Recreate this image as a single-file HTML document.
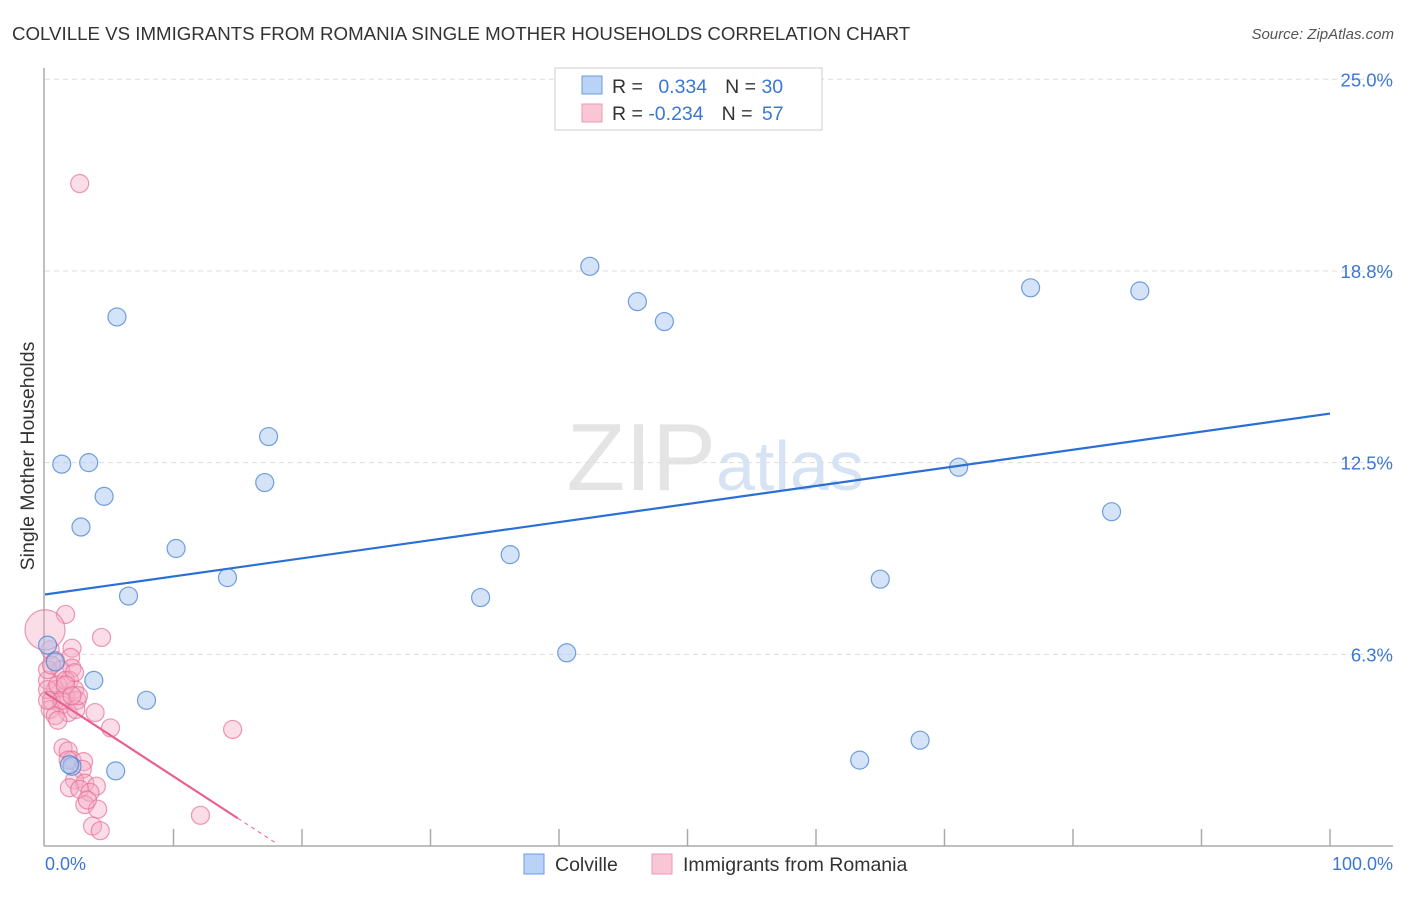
<!DOCTYPE html>
<html><head><meta charset="utf-8"><style>
body{margin:0;background:#fff;font-family:"Liberation Sans",sans-serif}
svg text{font-family:"Liberation Sans",sans-serif}
</style></head><body>
<svg id="chart" width="1406" height="892">
<text x="12" y="40" font-size="18.7" fill="#333">COLVILLE VS IMMIGRANTS FROM ROMANIA SINGLE MOTHER HOUSEHOLDS CORRELATION CHART</text>
<text x="1394" y="39" font-size="15" fill="#555" font-style="italic" text-anchor="end">Source: ZipAtlas.com</text>
<text x="716" y="490" font-size="96" fill="#e4e4e4" text-anchor="end" font-family="Liberation Serif">ZIP</text>
<text x="716" y="490" font-size="70" fill="#d6e3f5">atlas</text>
<g id="grid"></g><g id="axes"></g><g id="marks"></g>
<text transform="translate(34,456) rotate(-90)" font-size="19.5" fill="#333" text-anchor="middle">Single Mother Households</text>
<text x="45" y="870" font-size="18" fill="#3a78d4">0.0%</text>
<text x="1393" y="870" font-size="18" fill="#3a78d4" text-anchor="end">100.0%</text>
<g>
<rect x="555" y="68" width="267" height="62" fill="#fff" stroke="#ccc"/>
<rect x="582" y="76" width="20" height="18" fill="#b8d3f5" stroke="#6a9be0"/>
<rect x="582" y="104" width="20" height="18" fill="#f9c6d5" stroke="#ec9ab4"/>
<text x="612" y="93" font-size="19.5" fill="#333">R = <tspan fill="#3a78d4" dx="10">0.334</tspan><tspan dx="18" fill="#333">N = </tspan><tspan fill="#3a78d4">30</tspan></text>
<text x="612" y="120" font-size="19.5" fill="#333">R = <tspan fill="#3a78d4">-0.234</tspan><tspan dx="18" fill="#333">N = </tspan><tspan fill="#3a78d4" dx="4">57</tspan></text>
</g>
<g>
<rect x="524" y="854" width="20" height="20" fill="#b8d3f5" stroke="#6a9be0"/>
<text x="555" y="871" font-size="19.5" fill="#333">Colville</text>
<rect x="652" y="854" width="20" height="20" fill="#f9c6d5" stroke="#ec9ab4"/>
<text x="683" y="871" font-size="19.5" fill="#333">Immigrants from Romania</text>
</g>
</svg>
<script>
const yTicks=[25,18.75,12.5,6.25];
const yTickLabels=["25.0%","18.8%","12.5%","6.3%"];
const xTicks=[10,20,30,40,50,60,70,80,90,100];
const blueX=[5.6,1.3,3.4,4.6,2.8,10.2,6.5,14.2,17.4,17.1,3.8,7.9,5.5,2.1,42.4,46.1,48.2,36.2,33.9,40.6,65.0,63.4,68.1,71.1,76.7,85.2,83.0,0.2,0.8,1.9];
const blueY=[17.25,12.45,12.5,11.4,10.4,9.7,8.15,8.75,13.35,11.85,5.4,4.75,2.45,2.6,18.9,17.75,17.1,9.5,8.1,6.3,8.7,2.8,3.45,12.35,18.2,18.1,10.9,6.55,6.0,2.65];
const pinkX=[2.7,1.6,4.4,2.1,2.0,2.1,0.4,0.8,1.2,0.2,1.9,0.8,1.6,0.5,2.3,2.5,1.3,1.8,0.4,0.8,1.0,2.4,3.9,5.1,14.6,1.4,1.8,2.1,3.0,2.9,2.3,3.1,4.0,1.9,2.7,3.5,3.1,4.1,3.3,3.7,4.3,12.1,0.2,0.2,1.0,1.3,1.6,2.3,2.6,0.2,0.5,1.6,2.1,1.8,0.0];
const pinkY=[21.6,7.55,6.8,6.45,6.15,5.8,6.4,6.05,5.75,5.4,5.4,5.1,4.9,4.75,5.1,4.75,4.6,4.35,4.45,4.25,4.1,4.45,4.35,3.85,3.8,3.2,3.1,2.8,2.75,2.5,2.15,2.05,1.95,1.9,1.85,1.75,1.35,1.2,1.5,0.65,0.5,1.0,5.75,5.1,5.25,4.75,5.4,5.65,4.9,4.75,5.9,5.25,4.9,2.8,7.05];
const blueTrend=[8.2,14.1];
const pinkTrend=[5.0,-22.3];
const X0=45,X1=1330,Y0=846,PPU=30.67;
const sx=v=>X0+(X1-X0)*v/100, sy=v=>Y0-v*PPU;
const NS="http://www.w3.org/2000/svg";
function mk(t,a,p){const e=document.createElementNS(NS,t);for(const k in a)e.setAttribute(k,a[k]);p.appendChild(e);return e;}
const grid=document.getElementById('grid'),axes=document.getElementById('axes'),marks=document.getElementById('marks');
yTicks.forEach((t,i)=>{
 const l=mk('line',{x1:45,x2:1393,y1:sy(t),y2:sy(t),stroke:'#ddd','stroke-dasharray':'5,4'},grid);
 
 
 const tx=mk('text',{x:1393,y:sy(t)+7,'font-size':18.5,fill:'#3a78d4','text-anchor':'end'},grid);
 tx.textContent=yTickLabels[i];
 
 
});
const ya=mk('line',{x1:44,x2:44,y1:68,y2:846,stroke:'#aaa','stroke-width':1.5},axes);


const xa=mk('line',{x1:44,x2:1393,y1:846,y2:846,stroke:'#aaa','stroke-width':1.5},axes);


xTicks.forEach(t=>{
 const l=mk('line',{x1:sx(t),x2:sx(t),y1:846,y2:829,stroke:'#aaa','stroke-width':1.5},axes);
 
 
});
pinkX.forEach((x,i)=>{
 const r=(i===pinkX.length-1)?20:9;
 const c=mk('circle',{cx:sx(x),cy:sy(pinkY[i]),r:r,fill:'rgba(245,170,195,0.4)',stroke:'rgba(230,110,150,0.7)','stroke-width':1.2},marks);
 
 
});
blueX.forEach((x,i)=>{
 const c=mk('circle',{cx:sx(x),cy:sy(blueY[i]),r:9,fill:'rgba(170,200,240,0.5)',stroke:'rgba(70,130,210,0.75)','stroke-width':1.2},marks);
 
 
});
const bl=mk('line',{x1:sx(0),y1:sy(blueTrend[0]),x2:sx(100),y2:sy(blueTrend[1]),stroke:'#2a6fd6','stroke-width':2.2},marks);


const pv=x=>pinkTrend[0]+(pinkTrend[1]-pinkTrend[0])*x/100;
const pl=mk('line',{x1:sx(0),y1:sy(pv(0)),x2:sx(15),y2:sy(pv(15)),stroke:'#e8608e','stroke-width':2.2},marks);


const pd=mk('line',{x1:sx(15),y1:sy(pv(15)),x2:sx(17.9),y2:sy(pv(17.9)),stroke:'#e8608e','stroke-width':1,'stroke-dasharray':'4,4'},marks);


</script>
</body></html>
